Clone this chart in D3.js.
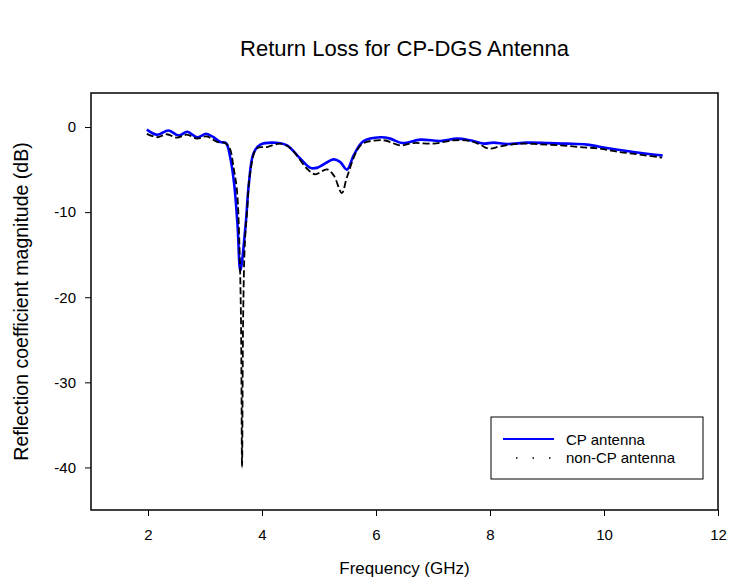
<!DOCTYPE html>
<html>
<head>
<meta charset="utf-8">
<script src="https://cdn.jsdelivr.net/npm/d3@7"></script>
<style>
  body { margin: 0; background: #fff; }
  text { font-family: "Liberation Sans", Arial, sans-serif; fill: #000; }
</style>
</head>
<body>
<div id="container"></div>
<script>
const w = 729, h = 584;
const margin = {top: 93, right: 11, bottom: 74, left: 91};

// CP antenna (solid blue)
const cpFreq = [1.98, 2.16, 2.36, 2.54, 2.69, 2.86, 3.02, 3.15, 3.27, 3.37, 3.44, 3.51, 3.57, 3.62,
  3.71, 3.77, 3.85, 3.97, 4.26, 4.44, 4.67, 4.85, 4.96, 5.26, 5.37, 5.49, 5.61, 5.78, 6.08,
  6.25, 6.46, 6.78, 7.13, 7.42, 7.65, 7.89, 8.06, 8.3, 8.65, 9.0, 9.35, 9.7, 10.05, 10.4, 10.75, 11.03];
const cpDb = [-0.3, -0.9, -0.4, -1.0, -0.55, -1.2, -0.8, -1.2, -1.75, -1.9, -3.5, -6.6, -11.4, -16.9,
  -11.7, -6.65, -3.1, -2.07, -1.85, -2.15, -3.7, -4.8, -4.8, -3.8, -4.1, -5.0, -3.3, -1.65, -1.2,
  -1.36, -1.88, -1.48, -1.64, -1.36, -1.56, -1.95, -1.83, -2.0, -1.83, -1.88, -1.95, -2.07, -2.47, -2.82, -3.13, -3.35];

// non-CP antenna (dashed black)
const ncpFreq = [1.98, 2.16, 2.33, 2.51, 2.68, 2.86, 3.03, 3.21, 3.36, 3.44, 3.5, 3.56, 3.6, 3.63, 3.65,
  3.67, 3.7, 3.74, 3.79, 3.91, 4.09, 4.32, 4.5, 4.79, 4.93, 5.14, 5.26, 5.4, 5.49, 5.67, 5.78, 6.13,
  6.43, 6.66, 7.01, 7.36, 7.65, 7.83, 7.98, 8.18, 8.53, 8.88, 9.23, 9.58, 9.93, 10.28, 10.63, 11.02];
const ncpDb = [-0.8, -1.2, -0.85, -1.25, -0.9, -1.35, -1.1, -1.75, -1.9, -2.6, -4.7, -7.4, -13, -22, -40,
  -22, -13.5, -9.8, -5.5, -2.5, -2.35, -1.95, -2.5, -4.9, -5.55, -4.97, -5.7, -7.75, -5.9, -2.7, -1.9, -1.55,
  -2.15, -1.88, -1.95, -1.56, -1.64, -2.07, -2.54, -2.27, -1.95, -2.03, -2.15, -2.35, -2.54, -2.94, -3.24, -3.6];

const xTicks = [2, 4, 6, 8, 10, 12];
const yTicks = [0, -10, -20, -30, -40];
const legendLabels = ["CP antenna", "non-CP antenna"];

const chart = d3.select('#container')
                .append('svg')
                .attr('width', w)
                .attr('height', h);

// SCALES
const x = d3.scaleLinear().domain([1, 12]).range([margin.left, w - margin.right]);
const y = d3.scaleLinear().domain([-45, 4]).range([h - margin.bottom, margin.top]);

// TITLES
const midX = (margin.left + w - margin.right) / 2;
chart.append('text')
     .attr('x', midX)
     .attr('y', 56)
     .attr('text-anchor', 'middle')
     .style('font-size', '22px')
     .text("Return Loss for CP-DGS Antenna");

chart.append('text')
     .attr('x', midX)
     .attr('y', 574)
     .attr('text-anchor', 'middle')
     .style('font-size', '17px')
     .text("Frequency (GHz)");

chart.append('text')
     .attr('transform', `translate(28, ${(margin.top + h - margin.bottom) / 2}) rotate(-90)`)
     .attr('text-anchor', 'middle')
     .style('font-size', '19.5px')
     .text("Reflection coefficient magnitude (dB)");

// AXES - plain hyphen for negatives like the original
const fmt = d => String(d);
const xAxis = d3.axisBottom(x).tickValues(xTicks).tickFormat(fmt).tickSize(6).tickPadding(13);
const yAxis = d3.axisLeft(y).tickValues(yTicks).tickFormat(fmt).tickSize(6).tickPadding(9);

const gx = chart.append('g')
     .attr('transform', `translate(0, ${h - margin.bottom})`)
     .call(xAxis);
gx.select('.domain').remove();
gx.attr('font-size', null);
gx.selectAll('text').style('font-size', '15px');

const gy = chart.append('g')
     .attr('transform', `translate(${margin.left}, 0)`)
     .call(yAxis);
gy.select('.domain').remove();
gy.attr('font-size', null);
gy.selectAll('text').style('font-size', '15px');

// frame
chart.append('rect')
     .attr('x', margin.left)
     .attr('y', margin.top)
     .attr('width', w - margin.right - margin.left)
     .attr('height', h - margin.bottom - margin.top)
     .attr('fill', 'none')
     .attr('stroke', '#000')
     .attr('stroke-width', 1.5);

// LINES
const line = d3.line()
               .x(d => x(d[0]))
               .y(d => y(d[1]))
               .curve(d3.curveCatmullRom.alpha(0.5));

chart.append('path')
     .datum(cpFreq.map((f, i) => [f, cpDb[i]]))
     .attr('d', line)
     .attr('fill', 'none')
     .attr('stroke', '#0000ff')
     .attr('stroke-width', 2.6);

chart.append('path')
     .datum(ncpFreq.map((f, i) => [f, ncpDb[i]]))
     .attr('d', line)
     .attr('fill', 'none')
     .attr('stroke', '#000')
     .attr('stroke-width', 1.8)
     .attr('stroke-dasharray', '7,3');

// LEGEND
const legend = chart.append('g').attr('transform', 'translate(491, 417)');
legend.append('rect')
      .attr('width', 212)
      .attr('height', 62)
      .attr('fill', '#fff')
      .attr('stroke', '#000')
      .attr('stroke-width', 1);

legend.append('line')
      .attr('x1', 12).attr('x2', 63)
      .attr('y1', 22).attr('y2', 22)
      .attr('stroke', '#0000ff')
      .attr('stroke-width', 1.8);

legend.append('line')
      .attr('x1', 25).attr('x2', 60)
      .attr('y1', 41).attr('y2', 41)
      .attr('stroke', '#000')
      .attr('stroke-width', 1.5)
      .attr('stroke-dasharray', '1.5,15');

legend.selectAll('text.leg')
      .data(legendLabels).enter()
      .append('text')
      .attr('x', 75)
      .attr('y', (d, i) => 28 + i * 18)
      .style('font-size', '15px')
      .text(d => d);
</script>
</body>
</html>
